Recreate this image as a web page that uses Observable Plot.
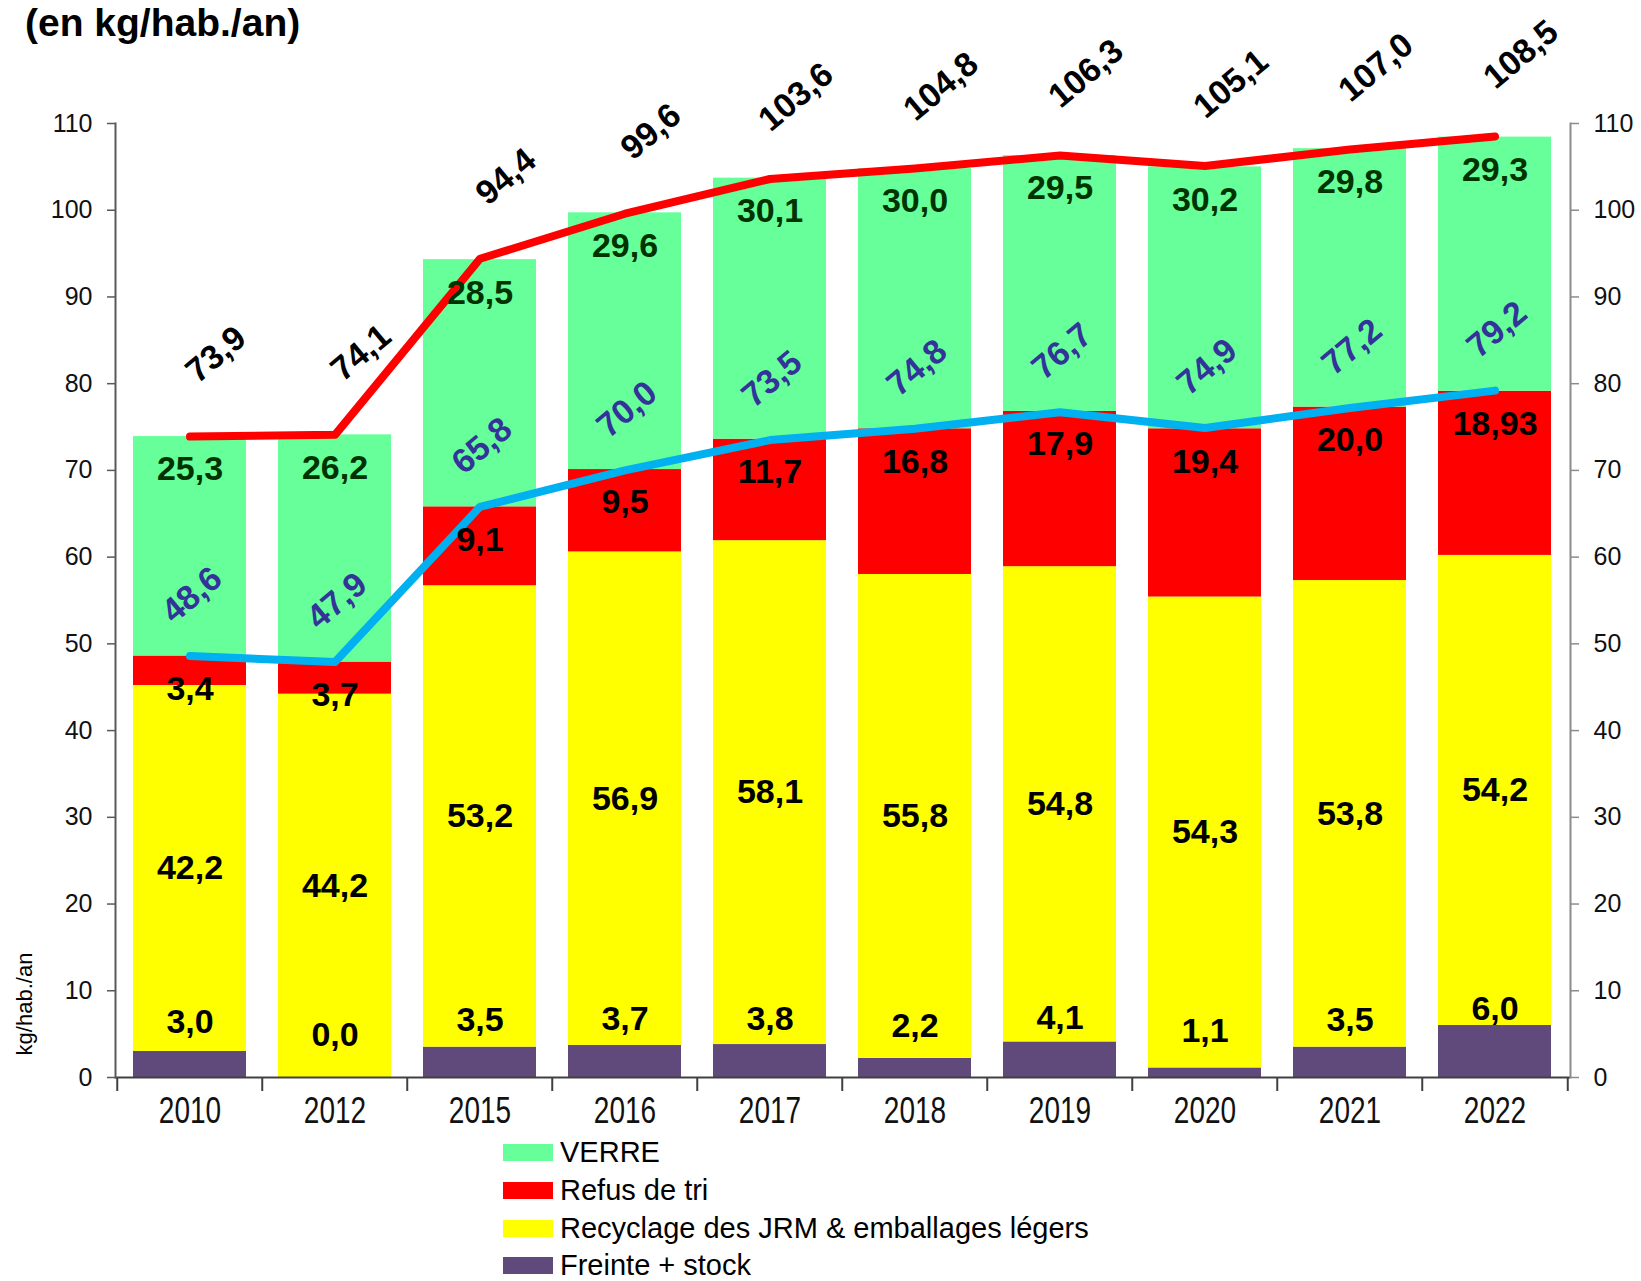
<!DOCTYPE html>
<html>
<head>
<meta charset="utf-8">
<script src="https://cdn.jsdelivr.net/npm/d3@7"></script>
<script src="https://cdn.jsdelivr.net/npm/@observablehq/plot@0.6"></script>
<style>
  body { margin: 0; background: #fff; font-family: "Liberation Sans", Arial, sans-serif; }
  #wrap { position: relative; width: 1641px; height: 1281px; overflow: hidden; background: #fff; }
  #title { position: absolute; left: 25px; top: 3px; font-size: 39px; font-weight: bold; line-height: 39px; color: #000; white-space: nowrap; }
  #ylab { position: absolute; left: 25px; top: 1004px; font-size: 22px; transform: translate(-50%, -50%) rotate(-90deg); white-space: nowrap; color: #000; }
  #chart { position: absolute; left: 0; top: 0; }
  #legend { position: absolute; left: 503px; top: 1134px; }
  .row { display: flex; align-items: center; height: 37.7px; font-size: 29px; color: #000; white-space: nowrap; }
  .sw { width: 50px; height: 17px; margin-right: 7px; }
</style>
</head>
<body>
<div id="wrap">
  <div id="chart"></div>
  <div id="title">(en kg/hab./an)</div>
  <div id="ylab">kg/hab./an</div>
  <div id="legend"></div>
</div>
<script>
const years = ["2010", "2012", "2015", "2016", "2017", "2018", "2019", "2020", "2021", "2022"];
const freinte = [3.0, 0.0, 3.5, 3.7, 3.8, 2.2, 4.1, 1.1, 3.5, 6.0];
const recyclage = [42.2, 44.2, 53.2, 56.9, 58.1, 55.8, 54.8, 54.3, 53.8, 54.2];
const refus = [3.4, 3.7, 9.1, 9.5, 11.7, 16.8, 17.9, 19.4, 20.0, 18.93];
const verre = [25.3, 26.2, 28.5, 29.6, 30.1, 30.0, 29.5, 30.2, 29.8, 29.3];
const sousTotal = [48.6, 47.9, 65.8, 70.0, 73.5, 74.8, 76.7, 74.9, 77.2, 79.2];
const total = [73.9, 74.1, 94.4, 99.6, 103.6, 104.8, 106.3, 105.1, 107.0, 108.5];
const series = ["Freinte + stock", "Recyclage des JRM & emballages légers", "Refus de tri", "VERRE"];
const seriesColors = ["#604A7B", "#FFFF00", "#FF0000", "#66FF99"];
const yTicks = [0, 10, 20, 30, 40, 50, 60, 70, 80, 90, 100, 110];

const fmt = v => (Math.abs(v * 10 - Math.round(v * 10)) < 1e-9 ? v.toFixed(1) : v.toFixed(2)).replace(".", ",");

const rows = years.map((year, i) => ({
  year, freinte: freinte[i], recyclage: recyclage[i], refus: refus[i], verre: verre[i],
  sousTotal: sousTotal[i], total: total[i]
}));
const segs = [freinte, recyclage, refus, verre];
const long = years.flatMap((year, i) => series.map((s, k) => ({year, serie: s, value: segs[k][i]})));

const W = 1641, H = 1135, mt = 123, mb = 58, ml = 115, mr = 71;
const step = (W - ml - mr) / years.length;
const pxPerUnit = (H - mt - mb) / 110;
const font = "Liberation Sans, Arial, sans-serif";
const lab = {fontSize: 34, fontWeight: "bold", fontFamily: font};

const chart = Plot.plot({
  width: W, height: H,
  marginTop: mt, marginBottom: mb, marginLeft: ml, marginRight: mr,
  style: {fontFamily: font, background: "transparent", overflow: "visible"},
  x: {domain: years, paddingInner: 0.22, paddingOuter: 0.11},
  y: {domain: [0, 110]},
  color: {domain: series, range: seriesColors},
  marks: [
    Plot.barY(long, {x: "year", y: "value", fill: "serie"}),
    Plot.ruleY([0], {stroke: "#404040", strokeWidth: 2}),
    Plot.ruleX(years, {x: d => d, dx: -step / 2, y1: 0, y2: -14 / pxPerUnit, stroke: "#404040", strokeWidth: 2}),
    Plot.ruleX([years[years.length - 1]], {x: d => d, dx: step / 2, y1: 0, y2: -14 / pxPerUnit, stroke: "#404040", strokeWidth: 2}),
    Plot.frame({anchor: "left", stroke: "#595959", strokeWidth: 2}),
    Plot.frame({anchor: "right", stroke: "#8c8c8c", strokeWidth: 2}),
    Plot.axisY({anchor: "left", ticks: yTicks, tickSize: 8, tickPadding: 15, fontSize: 25, stroke: "#595959", strokeWidth: 1.5, fill: "#111", label: null}),
    Plot.axisY({anchor: "right", ticks: yTicks, tickSize: 8, tickPadding: 15, fontSize: 25, stroke: "#8c8c8c", strokeWidth: 1.5, fill: "#111", label: null}),
    Plot.axisX({tickSize: 0, tickPadding: 22, fontSize: 28, fill: "#111", label: null}),
    Plot.line(rows, {x: "year", y: "total", stroke: "#FF0000", strokeWidth: 8, strokeLinecap: "round", strokeLinejoin: "round"}),
    Plot.line(rows, {x: "year", y: "sousTotal", stroke: "#00B0F0", strokeWidth: 8, strokeLinecap: "round", strokeLinejoin: "round"}),
    Plot.text(rows, {x: "year", y: d => d.freinte / 2, dy: -42, text: d => fmt(d.freinte), fill: "#000", ...lab}),
    Plot.text(rows, {x: "year", y: d => d.freinte + d.recyclage / 2, text: d => fmt(d.recyclage), fill: "#000", ...lab}),
    Plot.text(rows, {x: "year", y: d => d.freinte + d.recyclage + d.refus, dy: 33, text: d => fmt(d.refus), fill: "#000", ...lab}),
    Plot.text(rows, {x: "year", y: d => d.freinte + d.recyclage + d.refus + d.verre, dy: 33, text: d => fmt(d.verre), fill: "#003300", ...lab}),
    Plot.text(rows, {x: "year", y: "sousTotal", dx: 2, dy: -61, rotate: -40, text: d => fmt(d.sousTotal), fill: "#333399", ...lab}),
    Plot.text(rows, {x: "year", y: "total", dx: 26, dy: -82, rotate: -40, text: d => fmt(d.total), fill: "#000", ...lab})
  ]
});
document.getElementById("chart").append(chart);

// x tick labels are drawn taller than wide in the reference
chart.querySelectorAll('g[aria-label="x-axis tick label"] text').forEach(t => {
  const b = t.getBBox();
  const cx = b.x + b.width / 2, cy = b.y + b.height / 2;
  const tr = t.getAttribute("transform") || "";
  t.setAttribute("transform", `${tr} translate(${cx},${cy}) scale(1,1.35) translate(${-cx},${-cy})`);
});

const legend = document.getElementById("legend");
for (let k = series.length - 1; k >= 0; k--) {
  const r = document.createElement("div");
  r.className = "row";
  const sw = document.createElement("div");
  sw.className = "sw";
  sw.style.background = seriesColors[k];
  const tx = document.createElement("span");
  tx.textContent = series[k];
  r.append(sw, tx);
  legend.append(r);
}
</script>
</body>
</html>
